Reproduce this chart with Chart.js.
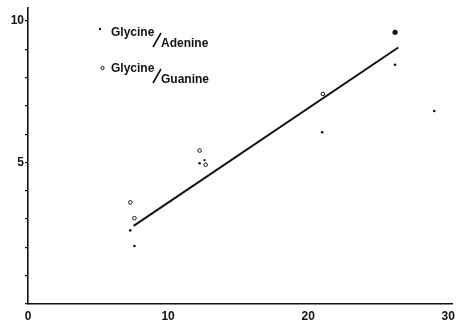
<!DOCTYPE html>
<html lang="en">
<head>
  <meta charset="UTF-8">
  <title>Glycine ratios</title>
  <style>
    body { margin: 0; background: #fff; }
    canvas { display: block; }
  </style>
  <script src="https://cdn.jsdelivr.net/npm/chart.js@4.4.0/dist/chart.umd.min.js"></script>
</head>
<body>
  <canvas id="chart" width="460" height="320"></canvas>

  <script>
    // values
    const adenineX = [7.3, 7.6, 12.25, 12.6, 21.0, 26.2, 29.0, 26.2];
    const adenineY = [2.6, 2.05, 4.97, 5.08, 6.07, 8.45, 6.82, 9.6];
    const adenineR = [1.3, 1.3, 1.3, 1.1, 1.3, 1.3, 1.3, 2.6];
    const guanineX = [7.3, 7.6, 12.25, 12.68, 21.05];
    const guanineY = [3.59, 3.03, 5.42, 4.92, 7.42];
    const fitX = [7.54, 26.43];
    const fitY = [2.76, 9.06];
    const xTicks = [0, 10, 20, 30];
    const yTicks = [0, 1, 2, 3, 4, 5, 6, 7, 8, 9, 10];
    const yLabels = [5, 10];

    const toPoints = (xs, ys) => xs.map((x, i) => ({ x: x, y: ys[i] }));
    const textFont = 'bold 12px "Liberation Sans", Arial, sans-serif';

    // legend drawn as "Glycine/Adenine" with the dropped second word
    const ratioLegend = {
      id: 'ratioLegend',
      afterDraw(chart) {
        const ctx = chart.ctx;
        ctx.save();
        ctx.fillStyle = '#111';
        ctx.strokeStyle = '#111';
        ctx.font = textFont;
        ctx.textBaseline = 'alphabetic';
        const rows = [
          { top: 'Glycine', bottom: 'Adenine', y: 36, open: false },
          { top: 'Glycine', bottom: 'Guanine', y: 72, open: true }
        ];
        rows.forEach(r => {
          // marker
          ctx.beginPath();
          if (r.open) {
            ctx.lineWidth = 1;
            ctx.arc(102.5, r.y - 4, 1.6, 0, Math.PI * 2);
            ctx.stroke();
          } else {
            ctx.arc(100, r.y - 7, 1.2, 0, Math.PI * 2);
            ctx.fill();
          }
          ctx.fillText(r.top, 111, r.y);
          ctx.lineWidth = 1.6;
          ctx.beginPath();
          ctx.moveTo(153, r.y + 11);
          ctx.lineTo(161, r.y - 3);
          ctx.stroke();
          ctx.fillText(r.bottom, 161, r.y + 11);
        });
        ctx.restore();
      }
    };

    new Chart(document.getElementById('chart'), {
      type: 'scatter',
      data: {
        datasets: [
          {
            label: 'Glycine/Adenine',
            data: toPoints(adenineX, adenineY),
            pointRadius: adenineR,
            pointBackgroundColor: '#111',
            pointBorderWidth: 0
          },
          {
            label: 'Glycine/Guanine',
            data: toPoints(guanineX, guanineY),
            pointRadius: 1.8,
            pointBackgroundColor: '#fff',
            pointBorderColor: '#111',
            pointBorderWidth: 1
          },
          {
            type: 'line',
            label: 'fit',
            data: toPoints(fitX, fitY),
            borderColor: '#111',
            borderWidth: 2,
            pointRadius: 0,
            fill: false
          }
        ]
      },
      options: {
        responsive: false,
        animation: false,
        layout: { padding: { top: 8, right: 2, left: 0, bottom: 0 } },
        plugins: {
          legend: { display: false },
          tooltip: { enabled: false }
        },
        scales: {
          x: {
            type: 'linear',
            min: 0,
            max: 30.3,
            afterFit: s => { s.height = 16; },
            afterBuildTicks: s => { s.ticks = xTicks.map(v => ({ value: v })); },
            border: { color: '#111', width: 1.6 },
            grid: { display: false, drawTicks: false },
            ticks: {
              color: '#111',
              font: { family: '"Liberation Sans", Arial, sans-serif', size: 12, weight: 'bold' },
              padding: 5,
              maxRotation: 0
            }
          },
          y: {
            type: 'linear',
            min: 0,
            max: 10.45,
            afterFit: s => { s.width = 28; },
            afterBuildTicks: s => { s.ticks = yTicks.map(v => ({ value: v })); },
            border: { color: '#111', width: 1.6 },
            grid: {
              drawOnChartArea: false,
              drawTicks: true,
              tickLength: 3,
              color: '#111',
              lineWidth: 1.2
            },
            ticks: {
              color: '#111',
              padding: 1,
              font: { family: '"Liberation Sans", Arial, sans-serif', size: 12, weight: 'bold' },
              callback: v => (yLabels.includes(v) ? String(v) : '')
            }
          }
        }
      },
      plugins: [ratioLegend]
    });
  </script>
</body>
</html>
